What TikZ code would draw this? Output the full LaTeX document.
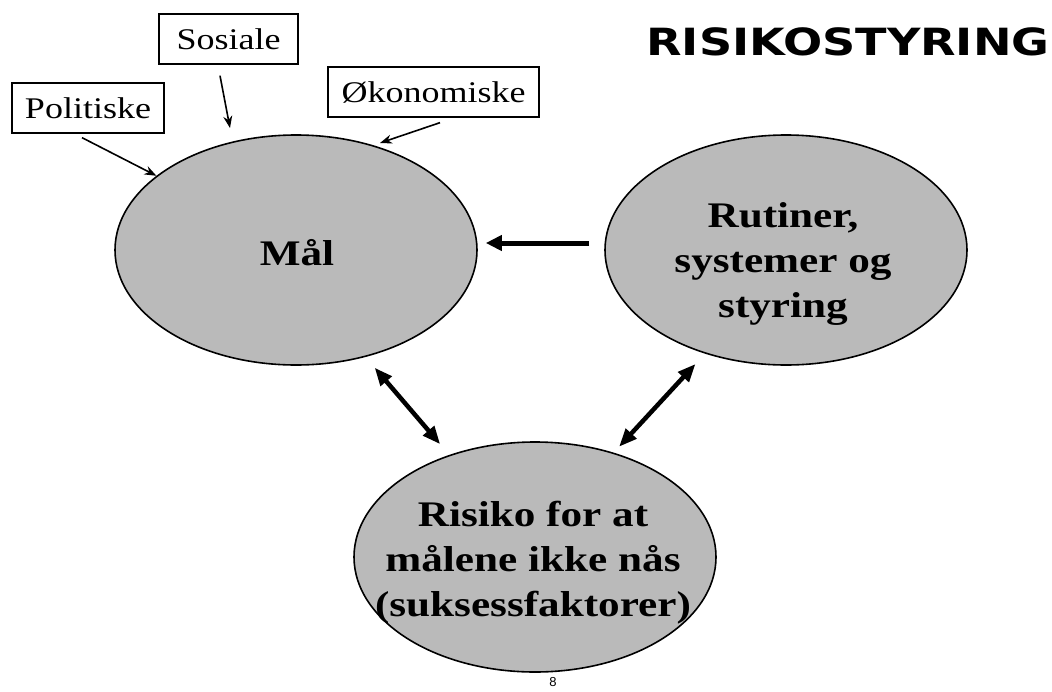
\documentclass[tikz,border=0pt]{standalone}
\usepackage{fontspec}
\setmainfont{Liberation Serif}[FakeStretch=1.2]
\newfontfamily\titlefont{DejaVu Sans}[FakeStretch=1.23]
\newfontfamily\pagefont{Liberation Sans}
\usetikzlibrary{shapes.geometric,arrows.meta}
\definecolor{blobgray}{gray}{0.73}
\begin{document}
\begin{tikzpicture}[x=1pt,y=-1pt,
  blob/.style={ellipse,draw=black,line width=1.6pt,fill=blobgray,minimum width=362pt,minimum height=230pt,inner sep=0pt},
  blobtext/.style={font=\bfseries\fontsize{36}{45}\selectfont,align=center,inner sep=0pt},
  tag/.style={draw=black,line width=1.3pt,inner sep=0pt,font=\fontsize{30}{36}\selectfont,minimum height=50pt},
  thinarr/.style={line width=1.6pt,-{Stealth[length=12pt,width=9pt]}},
  bigarr/.style={line width=5pt,-{Triangle[length=16pt,width=15pt]}},
  dblarr/.style={line width=4.5pt,{Triangle[length=18pt,width=14pt]}-{Triangle[length=18pt,width=14pt]}}
]
\useasboundingbox (0,0) rectangle (1052,691);
\fill[white] (0,0) rectangle (1052,691);

\node[blob] (mal) at (296,250) {};
\node[blob] (rut) at (786,250) {};
\node[blob] (ris) at (535,557) {};
\node[blobtext,anchor=base] (maltxt) at (297,265) {Mål};
\node[blobtext] (ruttxt) at (783,264) {Rutiner,\\systemer og\\styring};
\node[blobtext] (ristxt) at (533,563) {Risiko for at\\målene ikke nås\\(suksessfaktorer)};

\node[tag,minimum width=152pt] (pol) at (88,108) {Politiske};
\node[tag,minimum width=139pt] (sos) at (228.5,39) {Sosiale};
\node[tag,minimum width=211pt] (oko) at (433.5,92) {Økonomiske};

\node[font=\titlefont\bfseries\fontsize{37.5}{40}\selectfont,anchor=base,inner sep=0pt] (title) at (848,55) {RISIKOSTYRING};
\node[font=\pagefont\fontsize{13}{13}\selectfont,inner sep=0pt] (pg) at (553,682) {8};

\coordinate (sosE) at (230,128);
\coordinate (okoE) at (380,143);
\draw[thinarr] ([xshift=-6pt,yshift=-4pt]pol.south) -- (mal.152);
\draw[thinarr] ([xshift=-8.5pt,yshift=-11pt]sos.south) -- (sosE);
\draw[thinarr] ([xshift=6.5pt,yshift=-5pt]oko.south) -- (okoE);

\draw[bigarr,shorten <=15pt,shorten >=8pt] ([yshift=7pt]rut.west) -- ([yshift=7pt]mal.east);
\draw[dblarr,shorten <=14pt,shorten >=14pt] (mal.-57) -- (ris.130);
\draw[dblarr,shorten <=14pt,shorten >=8pt] (rut.-128) -- (ris.53);
\end{tikzpicture}
\end{document}
